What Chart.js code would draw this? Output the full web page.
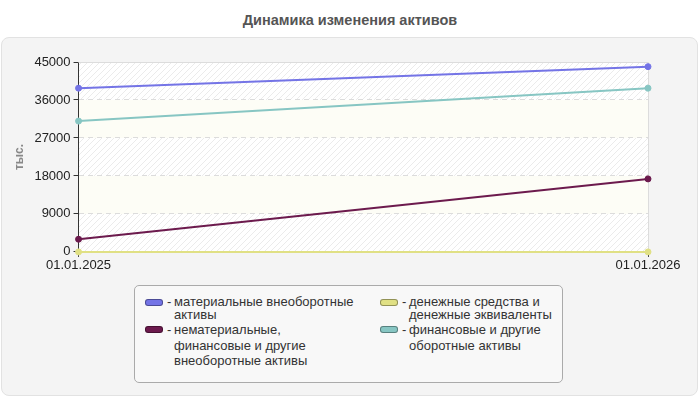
<!DOCTYPE html>
<html>
<head>
<meta charset="utf-8">
<script src="https://cdn.jsdelivr.net/npm/chart.js@4.4.0/dist/chart.umd.min.js"></script>
<style>
  body { margin: 0; width: 700px; height: 400px; background: #fff; position: relative; overflow: hidden;
         font-family: "Liberation Sans", Arial, sans-serif; }
  .title { position: absolute; top: 12px; left: 0; width: 700px; text-align: center;
           font-weight: bold; font-size: 14.5px; color: #555; }
  .panel { position: absolute; left: 1px; top: 37px; width: 695px; height: 357px; background: #f4f4f4;
           border: 1px solid #e2e2e2; border-radius: 8px; }
  #chart { position: absolute; left: 0; top: 0; }
  .legend { position: absolute; left: 134px; top: 285px; width: 429px; height: 98px; box-sizing: border-box;
            background: #f8f8f8; border: 1px solid #aaa; border-radius: 5px; }
  .item { position: absolute; font-size: 13px; color: #333; }
  .item .sw { position: absolute; left: 0; width: 18px; height: 7px; box-sizing: border-box;
              border: 1px solid rgba(0,0,0,0.35); border-radius: 3px; }
  .item .dash { position: absolute; left: 22px; top: 0; }
  .item .txt { position: absolute; left: 29px; top: 0; white-space: nowrap; }
  .row0 { line-height: 12.5px; top: 10px; }
  .row1 { line-height: 15.5px; top: 36px; }
  .col0 { left: 10px; }
  .col1 { left: 245px; }
</style>
</head>
<body>
<div class="title">Динамика изменения активов</div>
<div class="panel"></div>
<canvas id="chart" width="700" height="400"></canvas>
<div class="legend" id="legend"></div>
<script>
// даты отчётных периодов
const dates = ["01.01.2025", "01.01.2026"];

// значения, тыс.
const tangibleNonCurrent = [38800, 43900];
const otherNonCurrent = [3000, 17300];
const cashEquivalents = [0, 0];
const financialCurrent = [31000, 38800];

const seriesLabels = [
  ["материальные внеоборотные", "активы"],
  ["нематериальные,", "финансовые и другие", "внеоборотные активы"],
  ["денежные средства и", "денежные эквиваленты"],
  ["финансовые и другие", "оборотные активы"],
];
const seriesColors = ["#7474e6", "#6c1a4d", "#e0e084", "#87c6c3"];

const yMin = 0;
const yMax = 45000;
const yStep = 9000;

// штриховка для полос фона
function hatch() {
  const c = document.createElement("canvas");
  c.width = 6; c.height = 6;
  const g = c.getContext("2d");
  g.fillStyle = "#ffffff";
  g.fillRect(0, 0, 6, 6);
  g.strokeStyle = "#ebebeb";
  g.lineWidth = 1;
  g.beginPath();
  g.moveTo(-1, 7); g.lineTo(7, -1);
  g.moveTo(-1, 1); g.lineTo(1, -1);
  g.moveTo(5, 7); g.lineTo(7, 5);
  g.stroke();
  return g.createPattern(c, "repeat");
}

const plotBackground = {
  id: "plotBackground",
  beforeDraw(chart) {
    const { ctx, chartArea: a, scales: { y } } = chart;
    const pat = hatch();
    ctx.save();
    let i = 0;
    for (let v = yMin; v < yMax; v += yStep, i++) {
      const top = y.getPixelForValue(v + yStep);
      const bottom = y.getPixelForValue(v);
      ctx.fillStyle = i % 2 === 0 ? pat : "#fdfdf6";
      ctx.fillRect(a.left, top, a.right - a.left, bottom - top);
    }
    ctx.restore();
  },
  beforeDatasetsDraw(chart) {
    const { ctx, chartArea: a } = chart;
    ctx.save();
    ctx.strokeStyle = "#dcdcdc";
    ctx.lineWidth = 1;
    ctx.beginPath();
    ctx.moveTo(a.left, a.top + 0.5);
    ctx.lineTo(a.right + 0.5, a.top + 0.5);
    ctx.lineTo(a.right + 0.5, a.bottom);
    ctx.stroke();
    ctx.restore();
  },
};

const values = [tangibleNonCurrent, otherNonCurrent, cashEquivalents, financialCurrent];

const chart = new Chart(document.getElementById("chart"), {
  type: "line",
  data: {
    labels: dates,
    datasets: values.map((data, i) => ({
      label: seriesLabels[i],
      data: data,
      borderColor: seriesColors[i],
      backgroundColor: seriesColors[i],
      pointBackgroundColor: seriesColors[i],
      pointBorderColor: seriesColors[i],
      borderWidth: 2,
      pointRadius: 3,
      pointBorderWidth: 1,
      tension: 0,
      clip: false,
    })),
  },
  options: {
    responsive: false,
    animation: false,
    layout: { padding: { left: 8, right: 52, top: 62, bottom: 125.5 } },
    plugins: { legend: { display: false }, tooltip: { enabled: false } },
    scales: {
      x: {
        offset: false,
        grid: { drawOnChartArea: false, tickLength: 5, tickColor: "#333" },
        border: { color: "#333", width: 1 },
        ticks: { color: "#222", font: { family: "Liberation Sans", size: 13 }, padding: 1, maxRotation: 0 },
      },
      y: {
        min: yMin,
        max: yMax,
        ticks: { stepSize: yStep, color: "#222", font: { family: "Liberation Sans", size: 13 }, padding: 3,
                 callback: (v) => String(v) },
        grid: { color: "#dcdcdc", tickLength: 5, tickColor: "#333", tickBorderDash: [] },
        border: { color: "#333", width: 1, dash: [5, 4] },
        title: { display: true, text: "тыс.", color: "#888", font: { family: "Liberation Sans", size: 12, weight: "bold" },
                 padding: { top: 4, bottom: 5 } },
      },
    },
  },
  plugins: [plotBackground],
});

// легенда из наборов данных графика
const legend = document.getElementById("legend");
chart.data.datasets.forEach((ds, i) => {
  const item = document.createElement("div");
  item.className = "item col" + Math.floor(i / 2) + " row" + (i % 2);
  const lh = i % 2 === 0 ? 12.5 : 15.5;
  item.innerHTML =
    '<span class="sw" style="background:' + ds.borderColor + ';top:' + (lh / 2 - 3.5) + 'px"></span>' +
    '<span class="dash">-</span>' +
    '<span class="txt">' + ds.label.join("<br>") + "</span>";
  legend.appendChild(item);
});
</script>
</body>
</html>
